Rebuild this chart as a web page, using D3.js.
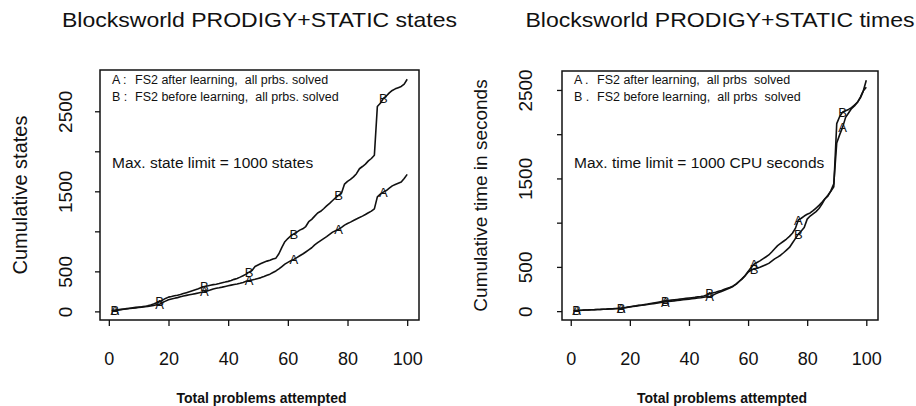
<!DOCTYPE html>
<html>
<head>
<meta charset="utf-8">
<script src="https://cdn.jsdelivr.net/npm/d3@7"></script>
<style>
  body { margin: 0; background: #fff; }
  svg text { font-family: "Liberation Sans", Arial, sans-serif; fill: #111; white-space: pre; }
</style>
</head>
<body>
<div id="chartContainer"></div>
<script>
// problems 1..100 on the x axis
const problems = d3.range(1, 101);
// problems where the series letters are printed
const markerAt = [2, 17, 32, 47, 62, 77, 92];

const xTicks = [0, 20, 40, 60, 80, 100];
const yTicks = [0, 500, 1000, 1500, 2000, 2500];
const yTickLabels = [0, 500, 1500, 2500];

// cumulative states, after learning (A) and before learning (B)
const statesAfter = [
  8, 12, 16, 20, 26, 30, 35, 40, 44, 48,
  53, 57, 62, 68, 74, 82, 90, 110, 128, 145,
  155, 163, 172, 183, 192, 200, 208, 215, 222, 230,
  238, 246, 256, 266, 280, 288, 295, 303, 312, 320,
  328, 336, 343, 352, 362, 375, 384, 393, 402, 412,
  422, 435, 450, 465, 485, 505, 530, 560, 590, 612,
  632, 650, 672, 695, 717, 742, 768, 795, 830, 858,
  885, 910, 935, 962, 990, 1008, 1025, 1050, 1078, 1098,
  1115, 1135, 1155, 1172, 1190, 1210, 1232, 1252, 1280, 1430,
  1465, 1490, 1510, 1540, 1568, 1585, 1600, 1615, 1660, 1712
];
const statesBefore = [
  10, 15, 20, 25, 30, 35, 40, 45, 50, 55,
  58, 62, 70, 80, 92, 108, 120, 140, 162, 178,
  185, 195, 202, 210, 222, 234, 246, 258, 270, 282,
  298, 310, 318, 326, 334, 340, 348, 358, 366, 375,
  385, 400, 412, 428, 446, 465, 490, 512, 560, 580,
  598, 615, 628, 640, 655, 665, 720, 800, 870, 910,
  945, 968, 990, 1015, 1032, 1060, 1120, 1150, 1190, 1230,
  1250, 1282, 1318, 1350, 1385, 1420, 1450, 1480, 1590, 1625,
  1650, 1680, 1720, 1782, 1810, 1840, 1880, 1910, 1950, 2560,
  2600, 2660, 2690, 2730, 2760, 2780, 2795, 2810, 2840, 2900
];

// cumulative CPU seconds, after learning (A) and before learning (B)
const timeAfter = [
  4, 6, 8, 10, 12, 13, 15, 16, 18, 19,
  21, 22, 24, 25, 27, 29, 31, 36, 42, 47,
  52, 57, 62, 66, 70, 75, 80, 85, 90, 96,
  100, 104, 108, 112, 116, 120, 124, 128, 132, 136,
  140, 144, 148, 152, 157, 162, 166, 178, 195, 210,
  222, 236, 250, 265, 282, 305, 335, 365, 400, 448,
  490, 530, 550, 568, 590, 612, 635, 668, 705, 740,
  765, 790, 815, 845, 880, 935, 1030, 1050, 1075, 1095,
  1110, 1135, 1165, 1195, 1230, 1270, 1300, 1360, 1440, 1900,
  1995, 2080, 2190, 2240, 2290, 2320, 2360, 2410, 2490, 2610
];
const timeBefore = [
  5, 8, 10, 11, 13, 14, 16, 17, 19, 20,
  22, 23, 25, 27, 29, 31, 34, 38, 44, 50,
  55, 60, 66, 70, 75, 80, 86, 92, 98, 104,
  110, 116, 120, 124, 128, 132, 136, 140, 144, 148,
  152, 156, 161, 166, 172, 182, 196, 205, 214, 224,
  234, 246, 258, 270, 285, 308, 338, 368, 402, 440,
  462, 478, 485, 495, 510, 525, 540, 565, 590, 610,
  632, 660, 690, 720, 770, 820, 870, 905, 945, 1040,
  1075, 1100, 1125, 1160, 1210, 1268, 1310, 1355, 1405, 2120,
  2200, 2250, 2265, 2280, 2300, 2330, 2360, 2420, 2490, 2530
];

const svg = d3.select("#chartContainer").append("svg")
  .attr("width", 916)
  .attr("height", 406);

// widen a data range by 4% each side
function pad(ext) {
  const d = (ext[1] - ext[0]) * 0.04;
  return [ext[0] - d, ext[1] + d];
}

function drawPanel(p) {
  const x = d3.scaleLinear().domain(pad(d3.extent(problems))).range([p.left, p.right]);
  const all = p.series.flatMap(s => s.values);
  const y = d3.scaleLinear().domain(pad(d3.extent(all))).range([p.bottom, p.top]);
  const midX = (p.left + p.right) / 2;
  const midY = (p.top + p.bottom) / 2;

  // title
  svg.append("text")
    .attr("x", midX)
    .attr("y", 27)
    .attr("text-anchor", "middle")
    .attr("textLength", p.titleWidth)
    .attr("lengthAdjust", "spacingAndGlyphs")
    .style("font-size", "21px")
    .text(p.title);

  // frame
  svg.append("rect")
    .attr("x", p.left)
    .attr("y", p.top)
    .attr("width", p.right - p.left)
    .attr("height", p.bottom - p.top)
    .attr("fill", "none")
    .attr("stroke", "#111")
    .attr("stroke-width", 1.5);

  const gx = svg.append("g")
    .attr("transform", `translate(0, ${p.bottom})`)
    .call(d3.axisBottom(x).tickValues(xTicks).tickSize(6).tickPadding(26).tickFormat(d3.format("d")));
  gx.select(".domain").remove();
  gx.selectAll("line").attr("stroke", "#111").attr("stroke-width", 1.3);
  gx.selectAll("text").style("font-size", "18px").attr("fill", "#111");

  const gy = svg.append("g")
    .attr("transform", `translate(${p.left}, 0)`)
    .call(d3.axisLeft(y).tickValues(yTicks).tickSize(5)
      .tickFormat(d => yTickLabels.includes(d) ? d : ""));
  gy.select(".domain").remove();
  gy.selectAll("line").attr("stroke", "#111").attr("stroke-width", 1.3);
  gy.selectAll("text")
    .attr("transform", "rotate(-90)")
    .attr("x", 0)
    .attr("y", -p.yLabelGap)
    .attr("dy", 0)
    .attr("text-anchor", "middle")
    .attr("fill", "#111")
    .style("font-size", "19px");

  // axis titles
  svg.append("text")
    .attr("x", midX + 2)
    .attr("y", 403)
    .attr("text-anchor", "middle")
    .style("font-size", "14px")
    .style("font-weight", "bold")
    .text("Total problems attempted");

  svg.append("text")
    .attr("transform", `translate(${p.left - p.yTitleGap}, ${midY}) rotate(-90)`)
    .attr("text-anchor", "middle")
    .style("font-size", p.yTitleSize)
    .text(p.yTitle);

  const line = d3.line()
    .x((d, i) => x(problems[i]))
    .y(d => y(d));

  p.series.forEach(s => {
    svg.append("path")
      .datum(s.values)
      .attr("fill", "none")
      .attr("stroke", "#111")
      .attr("stroke-width", 1.6)
      .attr("stroke-linejoin", "round")
      .attr("d", line);

    svg.selectAll(null)
      .data(markerAt)
      .enter().append("text")
      .attr("x", d => x(d))
      .attr("y", d => y(s.values[d - 1]))
      .attr("dy", "0.36em")
      .attr("text-anchor", "middle")
      .style("font-size", "13px")
      .text(s.key);
  });

  // legend lines
  p.series.forEach((s, i) => {
    svg.append("text")
      .attr("x", p.left + 12)
      .attr("y", 84 + i * 17)
      .style("font-size", "12.5px")
      .text(s.key + p.sep);
    svg.append("text")
      .attr("x", p.left + 35)
      .attr("y", 84 + i * 17)
      .style("font-size", "12.5px")
      .text(s.label);
  });

  svg.append("text")
    .attr("x", p.left + 12)
    .attr("y", 168)
    .style("font-size", "15.5px")
    .text(p.note);
}

drawPanel({
  left: 100, right: 419, top: 70, bottom: 320,
  yLabelGap: 28, yTitleGap: 73, sep: " :",
  titleWidth: 395, yTitleSize: "20px",
  title: "Blocksworld PRODIGY+STATIC states",
  yTitle: "Cumulative states",
  note: "Max. state limit = 1000 states",
  series: [
    { key: "A", label: "FS2 after learning,  all prbs. solved", values: statesAfter },
    { key: "B", label: "FS2 before learning,  all prbs. solved", values: statesBefore }
  ]
});

drawPanel({
  left: 562, right: 878, top: 71, bottom: 320,
  yLabelGap: 30, yTitleGap: 75, sep: " .",
  titleWidth: 389, yTitleSize: "19px",
  title: "Blocksworld PRODIGY+STATIC times",
  yTitle: "Cumulative time in seconds",
  note: "Max. time limit = 1000 CPU seconds",
  series: [
    { key: "A", label: "FS2 after learning,  all prbs  solved", values: timeAfter },
    { key: "B", label: "FS2 before learning,  all prbs  solved", values: timeBefore }
  ]
});
</script>
</body>
</html>
